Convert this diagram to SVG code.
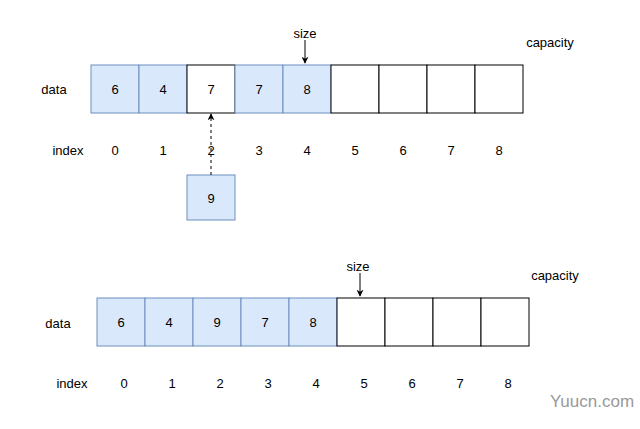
<svg xmlns="http://www.w3.org/2000/svg" width="640" height="429" viewBox="0 0 640 429">
<defs>
<style>
text{font-family:"Liberation Sans",Arial,sans-serif;font-size:13px;fill:#000;text-anchor:middle;dominant-baseline:central}
.b{fill:#dae8fc;stroke:#6c8ebf;stroke-width:1}
.w{fill:#fff;stroke:#000;stroke-width:1}
.c{stroke:#000;stroke-width:1;fill:none}
</style>
<marker id="ah" viewBox="0 0 10 10" refX="9" refY="5" markerWidth="7" markerHeight="7" orient="auto"><path d="M0,0L10,5L0,10L3,5Z" fill="#000"/></marker>
</defs>
<rect width="640" height="429" fill="#fff"/>
<g id="top">
<g id="t0"><rect class="b" x="91" y="65" width="48" height="48"/><text x="115" y="89">6</text></g>
<g id="t1"><rect class="b" x="139" y="65" width="48" height="48"/><text x="163" y="89">4</text></g>
<g id="t2"><rect class="w" x="187" y="65" width="48" height="48"/><text x="211" y="89">7</text></g>
<g id="t3"><rect class="b" x="235" y="65" width="48" height="48"/><text x="259" y="89">7</text></g>
<g id="t4"><rect class="b" x="283" y="65" width="48" height="48"/><text x="307" y="89">8</text></g>
<g id="t5"><rect class="w" x="331" y="65" width="48" height="48"/></g>
<g id="t6"><rect class="w" x="379" y="65" width="48" height="48"/></g>
<g id="t7"><rect class="w" x="427" y="65" width="48" height="48"/></g>
<g id="t8"><rect class="w" x="475" y="65" width="48" height="48"/></g>
<g id="t9"><rect class="b" x="187" y="175" width="48" height="45"/><text x="211" y="198">9</text></g>
<text x="54" y="89">data</text><text x="68" y="150">index</text>
<text x="115" y="150">0</text><text x="163" y="150">1</text><text x="211" y="150">2</text><text x="259" y="150">3</text><text x="307" y="150">4</text><text x="355" y="150">5</text><text x="403" y="150">6</text><text x="451" y="150">7</text><text x="499" y="150">8</text>
<text x="305" y="33">size</text><text x="550" y="42">capacity</text>
</g>
<g id="bottom">
<g id="b0"><rect class="b" x="97" y="298" width="48" height="48"/><text x="121" y="322">6</text></g>
<g id="b1"><rect class="b" x="145" y="298" width="48" height="48"/><text x="169" y="322">4</text></g>
<g id="b2"><rect class="b" x="193" y="298" width="48" height="48"/><text x="217" y="322">9</text></g>
<g id="b3"><rect class="b" x="241" y="298" width="48" height="48"/><text x="265" y="322">7</text></g>
<g id="b4"><rect class="b" x="289" y="298" width="48" height="48"/><text x="313" y="322">8</text></g>
<g id="b5"><rect class="w" x="337" y="298" width="48" height="48"/></g>
<g id="b6"><rect class="w" x="385" y="298" width="48" height="48"/></g>
<g id="b7"><rect class="w" x="433" y="298" width="48" height="48"/></g>
<g id="b8"><rect class="w" x="481" y="298" width="48" height="48"/></g>
<text x="58" y="323">data</text><text x="72" y="383">index</text>
<text x="124" y="383">0</text><text x="172" y="383">1</text><text x="220" y="383">2</text><text x="268" y="383">3</text><text x="316" y="383">4</text><text x="364" y="383">5</text><text x="412" y="383">6</text><text x="460" y="383">7</text><text x="508" y="383">8</text>
<text x="358" y="266">size</text><text x="555" y="275">capacity</text>
</g>
<g id="connectors">
<path class="c" d="M305,40V63" marker-end="url(#ah)"/>
<path class="c" d="M211,175V114" stroke-dasharray="3,3" marker-end="url(#ah)"/>
<path class="c" d="M360,273V296" marker-end="url(#ah)"/>
</g>
<text x="592" y="401" style="font-size:17px;fill:#999">Yuucn.com</text>
</svg>
